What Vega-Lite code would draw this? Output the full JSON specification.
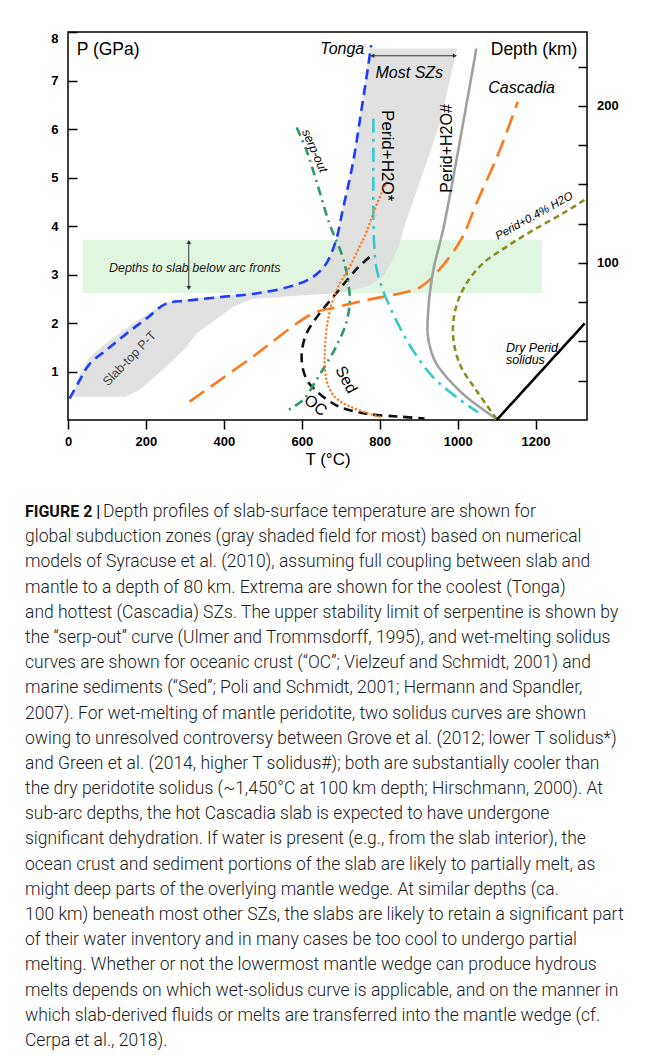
{
  "$schema": "https://vega.github.io/schema/vega-lite/v6.json",
  "background": "white",
  "padding": {"left": 25, "top": 28, "right": 5, "bottom": 5},
  "spacing": 35,
  "config": {"view": {"stroke": "black", "strokeWidth": 1.5}, "font": "Liberation Sans"},
  "datasets": {
    "band": [{"T": 38, "T2": 1216, "P": 2.62, "P2": 3.71}],
    "field": [
      {"T": 12, "lo": 0.48, "hi": 0.5},
      {"T": 30, "lo": 0.48, "hi": 0.95},
      {"T": 56, "lo": 0.48, "hi": 1.3},
      {"T": 98, "lo": 0.48, "hi": 1.58},
      {"T": 148, "lo": 0.48, "hi": 1.88},
      {"T": 184, "lo": 0.62, "hi": 2.08},
      {"T": 252, "lo": 1.1, "hi": 2.43},
      {"T": 304, "lo": 1.5, "hi": 2.49},
      {"T": 329, "lo": 1.78, "hi": 2.51},
      {"T": 398, "lo": 2.18, "hi": 2.56},
      {"T": 423, "lo": 2.33, "hi": 2.58},
      {"T": 475, "lo": 2.5, "hi": 2.62},
      {"T": 569, "lo": 2.55, "hi": 2.76},
      {"T": 629, "lo": 2.58, "hi": 2.96},
      {"T": 663, "lo": 2.6, "hi": 3.24},
      {"T": 688, "lo": 2.62, "hi": 3.7},
      {"T": 705, "lo": 2.64, "hi": 4.33},
      {"T": 731, "lo": 2.68, "hi": 5.29},
      {"T": 753, "lo": 2.72, "hi": 6.39},
      {"T": 774, "lo": 2.78, "hi": 7.66},
      {"T": 808, "lo": 2.95, "hi": 7.66},
      {"T": 833, "lo": 3.29, "hi": 7.66},
      {"T": 851, "lo": 3.64, "hi": 7.66},
      {"T": 866, "lo": 4.05, "hi": 7.66},
      {"T": 902, "lo": 4.88, "hi": 7.66},
      {"T": 954, "lo": 6.11, "hi": 7.66},
      {"T": 999, "lo": 7.66, "hi": 7.66}
    ],
    "curves": [
      {"c": "Tonga", "o": 1, "T": 4, "P": 0.44},
      {"c": "Tonga", "o": 2, "T": 30, "P": 0.82},
      {"c": "Tonga", "o": 3, "T": 56, "P": 1.16},
      {"c": "Tonga", "o": 4, "T": 98, "P": 1.44},
      {"c": "Tonga", "o": 5, "T": 150, "P": 1.78},
      {"c": "Tonga", "o": 6, "T": 201, "P": 2.09},
      {"c": "Tonga", "o": 7, "T": 252, "P": 2.4},
      {"c": "Tonga", "o": 8, "T": 304, "P": 2.46},
      {"c": "Tonga", "o": 9, "T": 398, "P": 2.54},
      {"c": "Tonga", "o": 10, "T": 483, "P": 2.61},
      {"c": "Tonga", "o": 11, "T": 569, "P": 2.75},
      {"c": "Tonga", "o": 12, "T": 629, "P": 2.95},
      {"c": "Tonga", "o": 13, "T": 663, "P": 3.23},
      {"c": "Tonga", "o": 14, "T": 688, "P": 3.71},
      {"c": "Tonga", "o": 15, "T": 705, "P": 4.33},
      {"c": "Tonga", "o": 16, "T": 731, "P": 5.29},
      {"c": "Tonga", "o": 17, "T": 753, "P": 6.39},
      {"c": "Tonga", "o": 18, "T": 770, "P": 7.28},
      {"c": "Tonga", "o": 19, "T": 778, "P": 7.73},
      {"c": "Cascadia", "o": 1, "T": 312, "P": 0.38},
      {"c": "Cascadia", "o": 2, "T": 470, "P": 1.28},
      {"c": "Cascadia", "o": 3, "T": 629, "P": 2.2},
      {"c": "Cascadia", "o": 4, "T": 680, "P": 2.31},
      {"c": "Cascadia", "o": 5, "T": 765, "P": 2.47},
      {"c": "Cascadia", "o": 6, "T": 851, "P": 2.61},
      {"c": "Cascadia", "o": 7, "T": 900, "P": 2.72},
      {"c": "Cascadia", "o": 8, "T": 936, "P": 2.95},
      {"c": "Cascadia", "o": 9, "T": 979, "P": 3.36},
      {"c": "Cascadia", "o": 10, "T": 1013, "P": 3.78},
      {"c": "Cascadia", "o": 11, "T": 1048, "P": 4.46},
      {"c": "Cascadia", "o": 12, "T": 1108, "P": 5.56},
      {"c": "Cascadia", "o": 13, "T": 1154, "P": 6.56},
      {"c": "OC", "o": 1, "T": 774, "P": 3.36},
      {"c": "OC", "o": 2, "T": 745, "P": 3.15},
      {"c": "OC", "o": 3, "T": 723, "P": 2.95},
      {"c": "OC", "o": 4, "T": 688, "P": 2.61},
      {"c": "OC", "o": 5, "T": 646, "P": 2.2},
      {"c": "OC", "o": 6, "T": 612, "P": 1.78},
      {"c": "OC", "o": 7, "T": 600, "P": 1.4},
      {"c": "OC", "o": 8, "T": 603, "P": 1.05},
      {"c": "OC", "o": 9, "T": 615, "P": 0.8},
      {"c": "OC", "o": 10, "T": 637, "P": 0.6},
      {"c": "OC", "o": 11, "T": 665, "P": 0.42},
      {"c": "OC", "o": 12, "T": 700, "P": 0.26},
      {"c": "OC", "o": 13, "T": 765, "P": 0.13},
      {"c": "OC", "o": 14, "T": 851, "P": 0.07},
      {"c": "OC", "o": 15, "T": 915, "P": 0.03},
      {"c": "serp", "o": 1, "T": 587, "P": 6.03},
      {"c": "serp", "o": 2, "T": 612, "P": 5.56},
      {"c": "serp", "o": 3, "T": 637, "P": 4.94},
      {"c": "serp", "o": 4, "T": 671, "P": 4.05},
      {"c": "serp", "o": 5, "T": 705, "P": 3.36},
      {"c": "serp", "o": 6, "T": 718, "P": 2.9},
      {"c": "serp", "o": 7, "T": 723, "P": 2.45},
      {"c": "serp", "o": 8, "T": 714, "P": 2.0},
      {"c": "serp", "o": 9, "T": 688, "P": 1.51},
      {"c": "serp", "o": 10, "T": 663, "P": 1.16},
      {"c": "serp", "o": 11, "T": 637, "P": 0.82},
      {"c": "serp", "o": 12, "T": 603, "P": 0.41},
      {"c": "serp", "o": 13, "T": 556, "P": 0.17},
      {"c": "PeridStar", "o": 1, "T": 784, "P": 6.21},
      {"c": "PeridStar", "o": 2, "T": 784, "P": 4.05},
      {"c": "PeridStar", "o": 3, "T": 786, "P": 3.6},
      {"c": "PeridStar", "o": 4, "T": 791, "P": 3.16},
      {"c": "PeridStar", "o": 5, "T": 808, "P": 2.68},
      {"c": "PeridStar", "o": 6, "T": 842, "P": 2.06},
      {"c": "PeridStar", "o": 7, "T": 885, "P": 1.44},
      {"c": "PeridStar", "o": 8, "T": 936, "P": 0.89},
      {"c": "PeridStar", "o": 9, "T": 996, "P": 0.48},
      {"c": "PeridStar", "o": 10, "T": 1052, "P": 0.16},
      {"c": "PeridHash", "o": 1, "T": 1048, "P": 7.66},
      {"c": "PeridHash", "o": 2, "T": 966, "P": 4.05},
      {"c": "PeridHash", "o": 3, "T": 936, "P": 3.02},
      {"c": "PeridHash", "o": 4, "T": 924, "P": 2.2},
      {"c": "PeridHash", "o": 5, "T": 924, "P": 1.72},
      {"c": "PeridHash", "o": 6, "T": 941, "P": 1.23},
      {"c": "PeridHash", "o": 7, "T": 971, "P": 0.89},
      {"c": "PeridHash", "o": 8, "T": 1022, "P": 0.48},
      {"c": "PeridHash", "o": 9, "T": 1100, "P": 0.02},
      {"c": "Perid04", "o": 1, "T": 1100, "P": 0.02},
      {"c": "Perid04", "o": 2, "T": 1048, "P": 0.61},
      {"c": "Perid04", "o": 3, "T": 1005, "P": 1.16},
      {"c": "Perid04", "o": 4, "T": 988, "P": 1.78},
      {"c": "Perid04", "o": 5, "T": 996, "P": 2.33},
      {"c": "Perid04", "o": 6, "T": 1022, "P": 2.81},
      {"c": "Perid04", "o": 7, "T": 1065, "P": 3.23},
      {"c": "Perid04", "o": 8, "T": 1125, "P": 3.57},
      {"c": "Perid04", "o": 9, "T": 1193, "P": 3.91},
      {"c": "Perid04", "o": 10, "T": 1270, "P": 4.26},
      {"c": "Perid04", "o": 11, "T": 1332, "P": 4.57},
      {"c": "Dry", "o": 1, "T": 1100, "P": 0.0},
      {"c": "Dry", "o": 2, "T": 1326, "P": 1.99},
      {"c": "Sed", "o": 1, "T": 818, "P": 4.9},
      {"c": "Sed", "o": 2, "T": 804, "P": 4.67},
      {"c": "Sed", "o": 3, "T": 787, "P": 4.33},
      {"c": "Sed", "o": 4, "T": 761, "P": 3.78},
      {"c": "Sed", "o": 5, "T": 748, "P": 3.57},
      {"c": "Sed", "o": 6, "T": 723, "P": 3.16},
      {"c": "Sed", "o": 7, "T": 700, "P": 2.85},
      {"c": "Sed", "o": 8, "T": 688, "P": 2.65},
      {"c": "Sed", "o": 9, "T": 675, "P": 2.35},
      {"c": "Sed", "o": 10, "T": 664, "P": 1.9},
      {"c": "Sed", "o": 11, "T": 659, "P": 1.4},
      {"c": "Sed", "o": 12, "T": 660, "P": 1.0},
      {"c": "Sed", "o": 13, "T": 666, "P": 0.75},
      {"c": "Sed", "o": 14, "T": 680, "P": 0.52},
      {"c": "Sed", "o": 15, "T": 700, "P": 0.38},
      {"c": "Sed", "o": 16, "T": 723, "P": 0.28},
      {"c": "Sed", "o": 17, "T": 765, "P": 0.15},
      {"c": "Sed", "o": 18, "T": 804, "P": 0.06}
    ],
    "arrows": [
      {"T": 778, "T2": 996, "P": 7.51, "P2": 7.51},
      {"T": 310, "T2": 310, "P": 2.7, "P2": 3.69}
    ],
    "heads": [
      {"T": 781, "P": 7.51, "dir": "left"},
      {"T": 993, "P": 7.51, "dir": "right"},
      {"T": 310, "P": 3.67, "dir": "up"},
      {"T": 310, "P": 2.72, "dir": "down"}
    ],
    "caption": [
      {"line": 1, "part": "head", "text": "FIGURE 2 |"},
      {"line": 1, "part": "first", "text": "Depth profiles of slab-surface temperature are shown for"},
      {"line": 2, "part": "body", "text": "global subduction zones (gray shaded field for most) based on numerical"},
      {"line": 3, "part": "body", "text": "models of Syracuse et al. (2010), assuming full coupling between slab and"},
      {"line": 4, "part": "body", "text": "mantle to a depth of 80 km. Extrema are shown for the coolest (Tonga)"},
      {"line": 5, "part": "body", "text": "and hottest (Cascadia) SZs. The upper stability limit of serpentine is shown by"},
      {"line": 6, "part": "body", "text": "the “serp-out” curve (Ulmer and Trommsdorff, 1995), and wet-melting solidus"},
      {"line": 7, "part": "body", "text": "curves are shown for oceanic crust (“OC”; Vielzeuf and Schmidt, 2001) and"},
      {"line": 8, "part": "body", "text": "marine sediments (“Sed”; Poli and Schmidt, 2001; Hermann and Spandler,"},
      {"line": 9, "part": "body", "text": "2007). For wet-melting of mantle peridotite, two solidus curves are shown"},
      {"line": 10, "part": "body", "text": "owing to unresolved controversy between Grove et al. (2012; lower T solidus*)"},
      {"line": 11, "part": "body", "text": "and Green et al. (2014, higher T solidus#); both are substantially cooler than"},
      {"line": 12, "part": "body", "text": "the dry peridotite solidus (~1,450°C at 100 km depth; Hirschmann, 2000). At"},
      {"line": 13, "part": "body", "text": "sub-arc depths, the hot Cascadia slab is expected to have undergone"},
      {"line": 14, "part": "body", "text": "significant dehydration. If water is present (e.g., from the slab interior), the"},
      {"line": 15, "part": "body", "text": "ocean crust and sediment portions of the slab are likely to partially melt, as"},
      {"line": 16, "part": "body", "text": "might deep parts of the overlying mantle wedge. At similar depths (ca."},
      {"line": 17, "part": "body", "text": "100 km) beneath most other SZs, the slabs are likely to retain a significant part"},
      {"line": 18, "part": "body", "text": "of their water inventory and in many cases be too cool to undergo partial"},
      {"line": 19, "part": "body", "text": "melting. Whether or not the lowermost mantle wedge can produce hydrous"},
      {"line": 20, "part": "body", "text": "melts depends on which wet-solidus curve is applicable, and on the manner in"},
      {"line": 21, "part": "body", "text": "which slab-derived fluids or melts are transferred into the mantle wedge (cf."},
      {"line": 22, "part": "body", "text": "Cerpa et al., 2018)."}
    ]
  },
  "vconcat": [
    {
      "width": 519,
      "height": 388,
      "layer": [
        {
          "layer": [
            {
              "data": {"name": "band"},
              "mark": {"type": "rect", "color": "#e0f6e0"},
              "encoding": {
                "x": {"field": "T", "type": "quantitative", "scale": {"domain": [0, 1332], "nice": false, "zero": false},
                  "axis": {"values": [0, 100, 200, 300, 400, 500, 600, 700, 800, 900, 1000, 1100, 1200, 1300],
                    "labelExpr": "datum.value % 200 === 0 ? datum.label : ''", "format": "d",
                    "tickSize": 9, "tickWidth": 1.5, "tickColor": "black", "domain": false, "grid": false,
                    "labelFont": "Liberation Sans", "labelFontSize": 13, "labelFontWeight": "bold", "labelColor": "black",
                    "labelPadding": 6, "labelOverlap": false, "labelFlush": false,
                    "title": "T (°C)", "titleFont": "Liberation Sans", "titleFontSize": 17, "titleFontWeight": "normal",
                    "titleColor": "black", "titlePadding": 3}},
                "x2": {"field": "T2"},
                "y": {"field": "P", "type": "quantitative", "scale": {"domain": [0, 8], "nice": false, "zero": false},
                  "axis": {"orient": "left", "values": [1, 2, 3, 4, 5, 6, 7, 8], "format": "d",
                    "tickSize": -9, "tickWidth": 1.5, "tickColor": "black", "domain": false, "grid": false,
                    "labelFont": "Liberation Sans", "labelFontSize": 13, "labelFontWeight": "bold", "labelColor": "black",
                    "labelPadding": 19, "labelOverlap": false, "labelFlush": false,
                    "labelBaseline": {"condition": {"test": "datum.value === 8", "value": "top"}, "value": "middle"},
                    "title": null}},
                "y2": {"field": "P2"}
              }
            },
            {
              "data": {"name": "field"},
              "mark": {"type": "area", "color": "#dedede", "opacity": 0.9},
              "encoding": {
                "x": {"field": "T", "type": "quantitative"},
                "y": {"field": "hi", "type": "quantitative"},
                "y2": {"field": "lo"}
              }
            },
            {
              "data": {"name": "curves"},
              "transform": [{"filter": "datum.c !== 'Sed'"}],
              "mark": {"type": "line", "interpolate": "catmull-rom", "strokeCap": "butt"},
              "encoding": {
                "x": {"field": "T", "type": "quantitative"},
                "y": {"field": "P", "type": "quantitative"},
                "order": {"field": "o", "type": "quantitative"},
                "color": {"field": "c", "type": "nominal", "legend": null,
                  "scale": {"domain": ["Tonga", "Cascadia", "OC", "serp", "PeridStar", "PeridHash", "Perid04", "Dry"],
                    "range": ["#1c3cff", "#ff781e", "#111111", "#2a9a68", "#38c8d2", "#a0a0a0", "#8d8d20", "#000000"]}},
                "strokeDash": {"field": "c", "type": "nominal", "legend": null,
                  "scale": {"domain": ["Tonga", "Cascadia", "OC", "serp", "PeridStar", "PeridHash", "Perid04", "Dry"],
                    "range": [[10, 6], [18, 8], [9, 6], [9, 5, 2, 5], [14, 6, 3, 6], [1, 0], [6, 4], [1, 0]]}},
                "strokeWidth": {"field": "c", "type": "ordinal", "legend": null,
                  "scale": {"domain": ["Tonga", "Cascadia", "OC", "serp", "PeridStar", "PeridHash", "Perid04", "Dry"],
                    "range": [2.6, 2.6, 2.4, 1.8, 2.4, 2.4, 1.8, 2.5]}}
              }
            },
            {
              "data": {"name": "curves"},
              "transform": [{"filter": "datum.c === 'Sed'"}],
              "mark": {"type": "line", "interpolate": "catmull-rom", "strokeCap": "round", "strokeDash": [0.1, 4], "strokeWidth": 2.4, "color": "#ff7a1a"},
              "encoding": {
                "x": {"field": "T", "type": "quantitative"},
                "y": {"field": "P", "type": "quantitative"},
                "order": {"field": "o", "type": "quantitative"}
              }
            },
            {
              "data": {"name": "arrows"},
              "mark": {"type": "rule", "color": "#333333", "strokeWidth": 1},
              "encoding": {
                "x": {"field": "T", "type": "quantitative"},
                "x2": {"field": "T2"},
                "y": {"field": "P", "type": "quantitative"},
                "y2": {"field": "P2"}
              }
            },
            {
              "data": {"name": "heads"},
              "mark": {"type": "point", "filled": true, "size": 22, "color": "#333333", "opacity": 1},
              "encoding": {
                "x": {"field": "T", "type": "quantitative"},
                "y": {"field": "P", "type": "quantitative"},
                "shape": {"field": "dir", "type": "nominal", "legend": null,
                  "scale": {"domain": ["left", "right", "up", "down"], "range": ["triangle-left", "triangle-right", "triangle-up", "triangle-down"]}}
              }
            },
            {
              "data": {"values": [{"t": "P (GPa)", "T": 103, "P": 7.62}, {"t": "Depth (km)", "T": 1196, "P": 7.62}]},
              "mark": {"type": "text", "font": "Liberation Sans", "fontSize": 17.5, "color": "black", "align": "center", "baseline": "middle"},
              "encoding": {"x": {"field": "T", "type": "quantitative"}, "y": {"field": "P", "type": "quantitative"}, "text": {"field": "t"}}
            },
            {
              "data": {"values": [{"t": "Tonga", "T": 704, "P": 7.64}, {"t": "Most SZs", "T": 876, "P": 7.16}, {"t": "Cascadia", "T": 1164, "P": 6.84}]},
              "mark": {"type": "text", "font": "Liberation Sans", "fontSize": 16, "fontStyle": "italic", "color": "black", "align": "center", "baseline": "middle"},
              "encoding": {"x": {"field": "T", "type": "quantitative"}, "y": {"field": "P", "type": "quantitative"}, "text": {"field": "t"}}
            },
            {
              "data": {"values": [{"t": "Depths to slab below arc fronts", "T": 105, "P": 3.14}]},
              "mark": {"type": "text", "font": "Liberation Sans", "fontSize": 12.5, "fontStyle": "italic", "color": "#222222", "align": "left", "baseline": "middle"},
              "encoding": {"x": {"field": "T", "type": "quantitative"}, "y": {"field": "P", "type": "quantitative"}, "text": {"field": "t"}}
            },
            {
              "data": {"values": [{"t": "Slab-top P-T", "T": 158, "P": 1.27}]},
              "mark": {"type": "text", "font": "Liberation Sans", "fontSize": 12.5, "color": "#444444", "align": "center", "baseline": "middle", "angle": 314},
              "encoding": {"x": {"field": "T", "type": "quantitative"}, "y": {"field": "P", "type": "quantitative"}, "text": {"field": "t"}}
            },
            {
              "data": {"values": [{"t": "serp-out", "T": 633, "P": 5.55}]},
              "mark": {"type": "text", "font": "Liberation Sans", "fontSize": 12.5, "fontStyle": "italic", "color": "black", "align": "center", "baseline": "middle", "angle": 66},
              "encoding": {"x": {"field": "T", "type": "quantitative"}, "y": {"field": "P", "type": "quantitative"}, "text": {"field": "t"}}
            },
            {
              "data": {"values": [{"t": "Perid+H2O*", "T": 818, "P": 5.45}]},
              "mark": {"type": "text", "font": "Liberation Sans", "fontSize": 17, "color": "black", "align": "center", "baseline": "middle", "angle": 90},
              "encoding": {"x": {"field": "T", "type": "quantitative"}, "y": {"field": "P", "type": "quantitative"}, "text": {"field": "t"}}
            },
            {
              "data": {"values": [{"t": "Perid+H2O#", "T": 972, "P": 5.6}]},
              "mark": {"type": "text", "font": "Liberation Sans", "fontSize": 16, "color": "black", "align": "center", "baseline": "middle", "angle": 270},
              "encoding": {"x": {"field": "T", "type": "quantitative"}, "y": {"field": "P", "type": "quantitative"}, "text": {"field": "t"}}
            },
            {
              "data": {"values": [{"t": "OC", "T": 635, "P": 0.3}]},
              "mark": {"type": "text", "font": "Liberation Sans", "fontSize": 16, "color": "black", "align": "center", "baseline": "middle", "angle": 38},
              "encoding": {"x": {"field": "T", "type": "quantitative"}, "y": {"field": "P", "type": "quantitative"}, "text": {"field": "t"}}
            },
            {
              "data": {"values": [{"t": "Sed", "T": 714, "P": 0.83}]},
              "mark": {"type": "text", "font": "Liberation Sans", "fontSize": 16, "color": "black", "align": "center", "baseline": "middle", "angle": 62},
              "encoding": {"x": {"field": "T", "type": "quantitative"}, "y": {"field": "P", "type": "quantitative"}, "text": {"field": "t"}}
            },
            {
              "data": {"values": [{"t": "Perid+0.4% H2O", "T": 1197, "P": 4.2}]},
              "mark": {"type": "text", "font": "Liberation Sans", "fontSize": 11.5, "fontStyle": "italic", "color": "black", "align": "center", "baseline": "middle", "angle": 331},
              "encoding": {"x": {"field": "T", "type": "quantitative"}, "y": {"field": "P", "type": "quantitative"}, "text": {"field": "t"}}
            },
            {
              "data": {"values": [{"t": "Dry Perid", "T": 1124, "P": 1.49}, {"t": "solidus", "T": 1124, "P": 1.23}]},
              "mark": {"type": "text", "font": "Liberation Sans", "fontSize": 12.5, "fontStyle": "italic", "color": "black", "align": "left", "baseline": "middle"},
              "encoding": {"x": {"field": "T", "type": "quantitative"}, "y": {"field": "P", "type": "quantitative"}, "text": {"field": "t"}}
            }
          ]
        },
        {
          "data": {"values": [{"km": 0}, {"km": 247}]},
          "mark": {"type": "point", "opacity": 0},
          "encoding": {
            "y": {"field": "km", "type": "quantitative", "scale": {"domain": [0, 247], "nice": false, "zero": false},
              "axis": {"orient": "right", "values": [25, 50, 75, 100, 125, 150, 175, 200, 225],
                "labelExpr": "datum.value % 100 === 0 ? datum.label : ''", "format": "d",
                "tickSize": -9, "tickWidth": 1.5, "tickColor": "black", "domain": false, "grid": false,
                "labelFont": "Liberation Sans", "labelFontSize": 13, "labelFontWeight": "bold", "labelColor": "black",
                "labelPadding": 18.5, "labelOverlap": false, "labelFlush": false, "title": null}}
          }
        }
      ],
      "resolve": {"scale": {"y": "independent"}}
    },
    {
      "width": 519,
      "height": 529,
      "view": {"stroke": null},
      "data": {"name": "caption"},
      "encoding": {
        "x": {"datum": 0, "type": "quantitative", "scale": {"domain": [0, 1]}, "axis": null},
        "y": {"field": "line", "type": "quantitative", "scale": {"domain": [1, 22], "reverse": true, "nice": false, "zero": false}, "axis": null},
        "text": {"field": "text"}
      },
      "layer": [
        {
          "transform": [{"filter": "datum.part === 'body'"}],
          "mark": {"type": "text", "align": "left", "baseline": "middle", "dx": -43, "font": "Roboto", "fontSize": 17.5, "fontWeight": 300, "color": "#1a1a1a"}
        },
        {
          "transform": [{"filter": "datum.part === 'first'"}],
          "mark": {"type": "text", "align": "left", "baseline": "middle", "dx": 35, "font": "Roboto", "fontSize": 17.5, "fontWeight": 300, "color": "#1a1a1a"}
        },
        {
          "transform": [{"filter": "datum.part === 'head'"}],
          "mark": {"type": "text", "align": "left", "baseline": "middle", "dx": -43, "font": "Roboto", "fontSize": 16, "fontWeight": "bold", "color": "#111111"}
        }
      ]
    }
  ]
}
